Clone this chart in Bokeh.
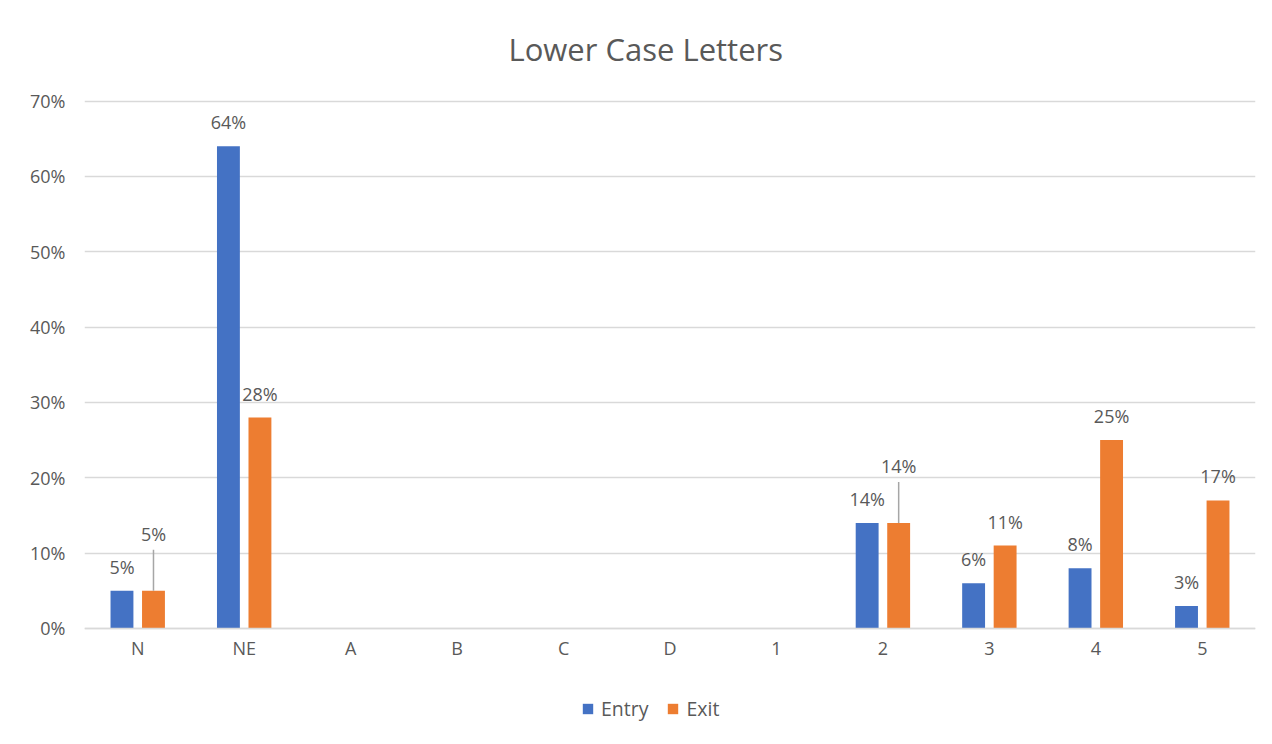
import math
from bokeh.plotting import figure
from bokeh.models import (ColumnDataSource, FactorRange, Range1d, FixedTicker,
                          NumeralTickFormatter, Legend, LegendItem)
from bokeh.transform import dodge
from bokeh.core.properties import value
from bokeh.embed import file_html
from bokeh.resources import INLINE

categories = ["N", "NE", "A", "B", "C", "D", "1", "2", "3", "4", "5"]
entry = [0.05, 0.64, 0, 0, 0, 0, 0, 0.14, 0.06, 0.08, 0.03]
exit_ = [0.05, 0.28, 0, 0, 0, 0, 0, 0.14, 0.11, 0.25, 0.17]
y_ticks = [0, 0.1, 0.2, 0.3, 0.4, 0.5, 0.6, 0.7]

BLUE = "#4472C4"
ORANGE = "#ED7D31"
GREY = "#595959"
GRID = "#D9D9D9"
FONT = "Open Sans"

src = ColumnDataSource(dict(cat=categories, entry=entry, exit=exit_))

# the frame reaches below 0 so that the legend (drawn inside the frame) is visible
p = figure(width=1256, height=728, x_range=FactorRange(*categories),
           y_range=Range1d(-0.1274, 0.702), output_backend="svg", toolbar_location=None,
           min_border_left=84, min_border_right=1, min_border_top=99,
           min_border_bottom=4)
p.outline_line_color = None

p.title.text = "Lower Case Letters"
p.title.align = "left"
p.title.offset = 424
p.title.vertical_align = "top"
p.title.text_color = GREY
p.title.text_font = FONT
p.title.text_font_size = "31px"
p.title.text_font_style = "normal"
p.title.standoff = 55

r_entry = p.vbar(x=dodge("cat", -0.148, range=p.x_range), top="entry", width=0.215,
                 source=src, fill_color=BLUE, line_color=None)
r_exit = p.vbar(x=dodge("cat", 0.148, range=p.x_range), top="exit", width=0.215,
                source=src, fill_color=ORANGE, line_color=None)

# data labels (non-zero values only); labels that would collide are raised with a leader line
def lbl_source(vals, raise_flags):
    xs, ys, txt, off = [], [], [], []
    lx, ly = [], []
    for c, v, o in zip(categories, vals, raise_flags):
        if v > 0:
            xs.append(c); ys.append(v); txt.append(f"{round(v*100)}%")
            if o:
                off.append(-57); lx.append(c); ly.append(v)
            else:
                off.append(-24)
    return ColumnDataSource(dict(x=xs, y=ys, t=txt, off=off)), ColumnDataSource(dict(x=lx, y=ly))

s_en, _ = lbl_source(entry, [False] * len(entry))
s_ex, s_lead = lbl_source(exit_, [a == b for a, b in zip(entry, exit_)])

for s, d in ((s_en, -0.148), (s_ex, 0.148)):
    p.text(x=dodge("x", d, range=p.x_range), y="y", text="t", y_offset="off", source=s,
           text_align="center", text_baseline="middle", text_color=GREY,
           text_font=value(FONT), text_font_size="18px")

p.ray(x=dodge("x", 0.148, range=p.x_range), y="y", length=41, length_units="screen",
      angle=math.pi / 2, source=s_lead, line_color="#A6A6A6", line_width=1.5)

# axes
p.yaxis.ticker = FixedTicker(ticks=y_ticks)
p.yaxis.formatter = NumeralTickFormatter(format="0%")
p.yaxis.axis_line_color = None
p.yaxis.major_tick_line_color = None
p.yaxis.minor_tick_line_color = None
p.yaxis.major_label_standoff = 13
p.xaxis.fixed_location = 0
p.xaxis.axis_line_color = GRID
p.xaxis.axis_line_width = 1.5
p.xaxis.major_tick_line_color = None
p.xaxis.major_label_standoff = 2
for ax in (p.xaxis, p.yaxis):
    ax.major_label_text_color = GREY
    ax.major_label_text_font = FONT
    ax.major_label_text_font_size = "18px"
p.xgrid.grid_line_color = None
p.ygrid.grid_line_color = GRID
p.ygrid.grid_line_width = 1.5

legend = Legend(items=[LegendItem(label="Entry", renderers=[r_entry]),
                       LegendItem(label="Exit", renderers=[r_exit])],
                location=(497, 2), orientation="horizontal",
                border_line_color=None, background_fill_alpha=0,
                label_text_color=GREY, label_text_font=FONT,
                label_text_font_size="19.5px", glyph_width=13, glyph_height=13,
                label_standoff=7, spacing=18, padding=0, margin=0)
p.add_layout(legend, "center")

open("out.html", "w").write(file_html(p, INLINE))
